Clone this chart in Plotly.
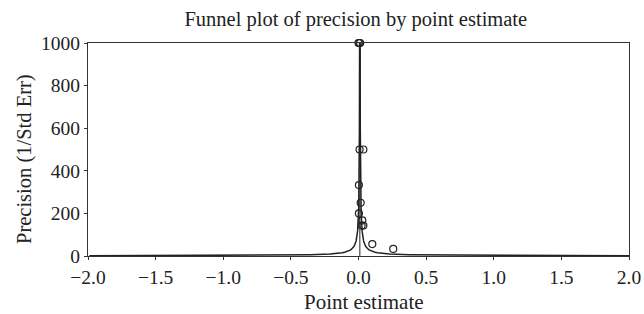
import numpy as np
import plotly.graph_objects as go

# Study points (point estimate, precision)
point_estimate = [0.000, 0.006, 0.012, 0.008, 0.036, 0.003, 0.016, 0.003, 0.028, 0.023, 0.036, 0.102, 0.257]
precision = [1000, 1000, 1000, 500, 500, 333, 250, 200, 167, 143, 143, 56, 33]

pooled_estimate = 0.01
x_ticks = [-2.0, -1.5, -1.0, -0.5, 0.0, 0.5, 1.0, 1.5, 2.0]
y_ticks = [0, 200, 400, 600, 800, 1000]

prec_grid = np.concatenate([np.linspace(0.98, 10, 200), np.linspace(10, 1000, 400)])
left = pooled_estimate - 1.96 / prec_grid
right = pooled_estimate + 1.96 / prec_grid

font = "Liberation Serif"
ink = "#222"
W, H = 644, 314
L, R, T, B = 88, 15, 43, 58
plot_h = H - T - B

fig = go.Figure()
fig.add_trace(go.Scatter(x=left, y=prec_grid, mode="lines", line=dict(color=ink, width=1.5), hoverinfo="skip"))
fig.add_trace(go.Scatter(x=right, y=prec_grid, mode="lines", line=dict(color=ink, width=1.5), hoverinfo="skip"))
fig.add_trace(go.Scatter(x=[pooled_estimate, pooled_estimate], y=[0, 1000], mode="lines",
                         line=dict(color=ink, width=1)))
fig.add_trace(go.Scatter(x=point_estimate, y=precision, mode="markers", cliponaxis=False,
                         marker=dict(symbol="circle-open", size=7, color=ink, line=dict(width=1.2))))

fig.update_layout(
    width=W, height=H,
    margin=dict(l=L, r=R, t=T, b=B, autoexpand=False),
    paper_bgcolor="white", plot_bgcolor="white",
    showlegend=False,
    font=dict(family=font, color=ink, size=19.5),
    title=dict(text="Funnel plot of precision by point estimate", x=0.495, xref="paper", xanchor="center",
               yref="container", y=1 - 19 / H, yanchor="middle", font=dict(family=font, size=20.5, color=ink)),
    annotations=[
        dict(text="Point estimate", xref="paper", yref="paper", x=0.511, y=0, yshift=-46,
             xanchor="center", yanchor="middle", showarrow=False, font=dict(size=21)),
        dict(text="Precision (1/Std Err)", xref="paper", yref="paper", x=0, xshift=-64,
             y=1 - (116 / plot_h), xanchor="center", yanchor="middle", textangle=-90,
             showarrow=False, font=dict(size=20.5)),
    ],
)
fig.update_xaxes(range=[-2.0, 2.0], tickvals=x_ticks, ticktext=[f"{v:.1f}".replace("-", "\u2212") for v in x_ticks],
                 showgrid=False, zeroline=False, showline=True, linecolor="#333", linewidth=1.2, mirror=True,
                 ticks="outside", ticklen=3, tickcolor="#333", automargin=False)
fig.update_yaxes(range=[0, 1000], tickvals=y_ticks, showgrid=False, zeroline=False, showline=True,
                 linecolor="#333", linewidth=1.2, mirror=True, automargin=False,
                 ticks="outside", ticklen=3, tickcolor="#333")

# Remove the browser's default 8px body margin so the figure fills the window exactly.
fig.write_html("out.html", config={"displayModeBar": False},
               post_script="document.body.style.margin='0';document.body.style.overflow='hidden';")
